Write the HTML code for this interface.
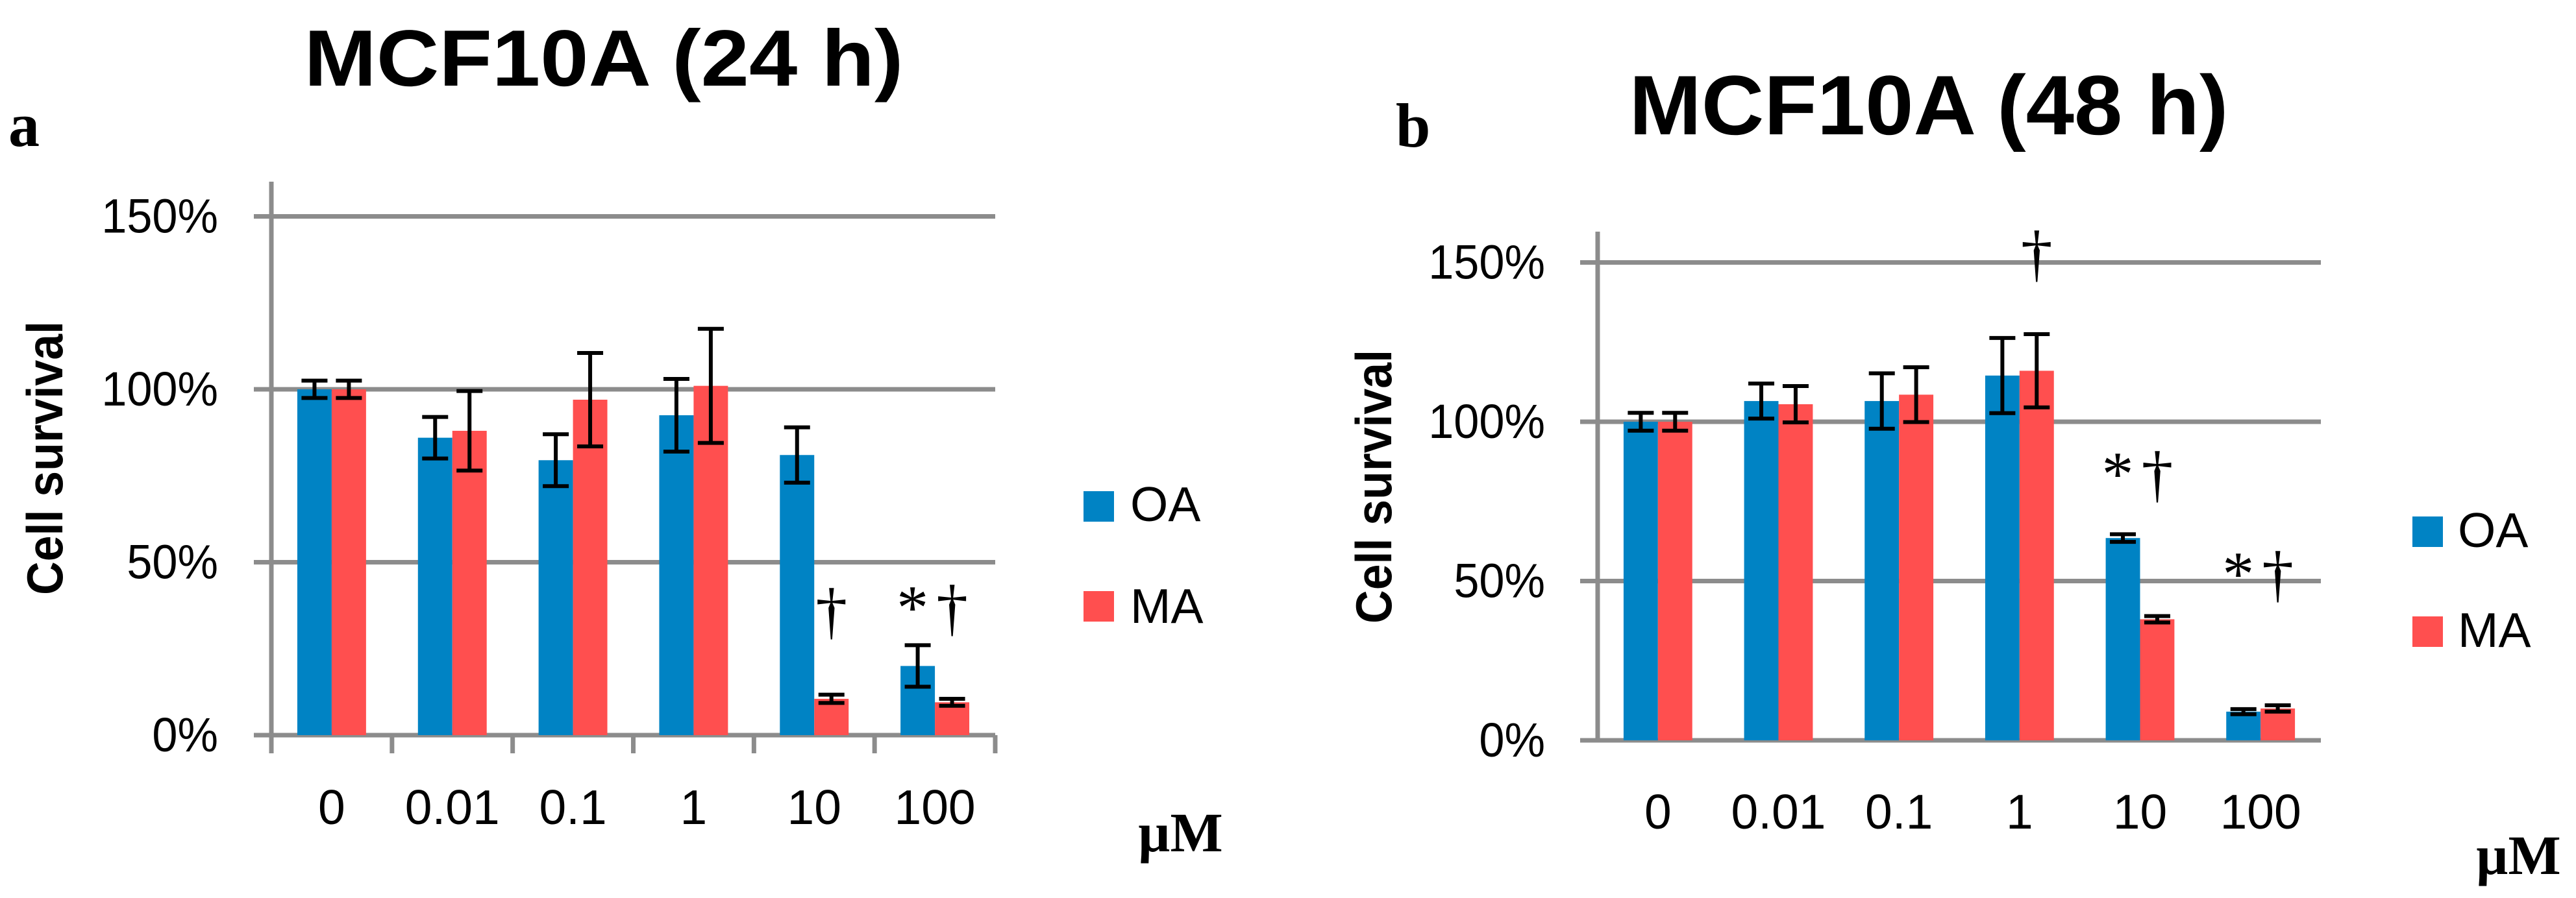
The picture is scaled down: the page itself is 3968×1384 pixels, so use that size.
<!DOCTYPE html>
<html><head><meta charset="utf-8"><style>
html,body{margin:0;padding:0;background:#fff;}
svg{display:block;}
</style></head><body>
<svg id="fig" width="3968" height="1384" viewBox="0 0 3968 1384" xmlns="http://www.w3.org/2000/svg">
<rect width="3968" height="1384" fill="#fff"/>
</svg>
<script>
const categories = ["0","0.01","0.1","1","10","100"];
const yTicks = [0,50,100,150];
const yTickLabels = ["0%","50%","100%","150%"];
const seriesNames = ["OA","MA"];
const oa24 = [100,86,79.5,92.5,81,20];
const ma24 = [100,88,97,101,10.5,9.5];
const oa24Err = [2.5,6,7.5,10.5,8,6];
const ma24Err = [2.5,11.5,13.5,16.5,1.2,1];
const oa48 = [100,106.5,106.5,114.5,63.5,9];
const ma48 = [100,105.5,108.5,116,38,10];
const oa48Err = [2.8,5.5,8.7,11.8,1.2,0.8];
const ma48Err = [2.8,5.7,8.6,11.5,1,1];
const annot24 = [["",""],["",""],["",""],["",""],["","†"],["*","†"]];
const annot48 = [["",""],["",""],["",""],["","†"],["*","†"],["*","†"]];

const NS="http://www.w3.org/2000/svg";
const svg=document.getElementById('fig');
const BLUE="#0083C4", RED="#FF4F4F", GRID="#8c8c8c";
function mk(tag,attrs,parent){const e=document.createElementNS(NS,tag);for(const k in attrs)e.setAttribute(k,attrs[k]);(parent||svg).appendChild(e);return e;}

const panels=[
 {id:'a',x0:418,x1:1533,y0:1133,y100:600,top:280,ticks:true,oa:oa24,ma:ma24,oaE:oa24Err,maE:ma24Err,ann:annot24,annTop:[0,0,0,0,908,903],
  title:"MCF10A (24 h)",tx:930,tb:132,tfs:123,letter:"a",lx:13,lb:225,ylab:[96,706],labR:336,xb:1270,leg:[1669,757,911,1741,803,960],mu:[1753,1312]},
 {id:'b',x0:2461,x1:3575,y0:1141,y100:650,top:357,ticks:false,oa:oa48,ma:ma48,oaE:oa48Err,maE:ma48Err,ann:annot48,annTop:[0,0,0,357,697,851],
  title:"MCF10A (48 h)",tx:2971,tb:207,tfs:130,letter:"b",lx:2150,lb:226,ylab:[2143,750],labR:2380,xb:1277,leg:[3716,796,950,3786,843,997],mu:[3814,1347]}
];

panels.forEach(p=>{
  const g=mk('g',{});
  
  
  const yS=v=>p.y0-(p.y0-p.y100)*v/100;
  const cw=(p.x1-p.x0)/categories.length;
  const bw=cw*0.285, off=cw*0.215;
  const t=mk('text',{x:p.tx,y:p.tb,'text-anchor':'middle','font-family':'Liberation Sans, sans-serif','font-weight':'bold','font-size':p.tfs,textLength:923,lengthAdjust:'spacingAndGlyphs'},g);
  t.textContent=p.title;
  
  
  const l=mk('text',{x:p.lx,y:p.lb,'font-family':'Liberation Serif, serif','font-weight':'bold','font-size':96},g);
  l.textContent=p.letter;
  
  
  yTicks.forEach((v,i)=>{
    const y=yS(v);
    const gl=mk('line',{x1:p.x0-27,x2:p.x1,y1:y,y2:y,stroke:GRID,'stroke-width':7},g);
    
    
    const tl=mk('text',{x:p.labR,y:y+25,'text-anchor':'end','font-family':'Liberation Sans, sans-serif','font-size':74,transform:`translate(${p.labR},0) scale(0.95,1) translate(${-p.labR},0)`},g);
    tl.textContent=yTickLabels[i];
    
    
  });
  const ax=mk('line',{x1:p.x0,x2:p.x0,y1:p.top,y2:p.y0+(p.ticks?28:0),stroke:GRID,'stroke-width':7},g);
  
  
  if(p.ticks){for(let i=1;i<=categories.length;i++){
    const tk=mk('line',{x1:p.x0+i*cw,x2:p.x0+i*cw,y1:p.y0,y2:p.y0+28,stroke:GRID,'stroke-width':7},g);
    
    
  }}
  const yl=mk('text',{transform:`translate(${p.ylab[0]},${p.ylab[1]}) rotate(-90)`,'text-anchor':'middle','font-family':'Liberation Sans, sans-serif','font-weight':'bold','font-size':78,textLength:422,lengthAdjust:'spacingAndGlyphs'},g);
  yl.textContent="Cell survival";
  
  
  categories.forEach((c,i)=>{
    const cx=p.x0+i*cw;
    [[p.oa,p.oaE,BLUE,'oa'],[p.ma,p.maE,RED,'ma']].forEach((s,j)=>{
      const x=cx+off+j*bw, v=s[0][i], e=s[1][i];
      const b=mk('rect',{x:x,y:yS(v),width:bw,height:yS(0)-yS(v),fill:s[2]},g);
      
      
      const mx=x+bw/2;
      const eb=mk('path',{d:`M${mx-20},${yS(v+e)}H${mx+20}M${mx},${yS(v+e)}V${yS(v-e)}M${mx-20},${yS(v-e)}H${mx+20}`,stroke:'#000','stroke-width':6,fill:'none'},g);
      
      
      const a=p.ann[i][j];
      if(a){
        const at=mk('text',{x:mx+(a==='*'?-8:0),y:p.annTop[i]+66,'text-anchor':'middle','font-family':'Liberation Serif, serif','font-size':98},g);
        at.textContent=a;
        
        
      }
    });
    const xl=mk('text',{x:cx+cw/2,y:p.xb,'text-anchor':'middle','font-family':'Liberation Sans, sans-serif','font-size':75},g);
    xl.textContent=c;
    
    
  });
  const L=p.leg;
  [[BLUE,L[1],L[4]],[RED,L[2],L[5]]].forEach((s,j)=>{
    const r=mk('rect',{x:L[0],y:s[1],width:47,height:47,fill:s[0]},g);
    
    
    const lt=mk('text',{x:L[3],y:s[2],'font-family':'Liberation Sans, sans-serif','font-size':75},g);
    lt.textContent=seriesNames[j];
    
    
  });
  const mu=mk('text',{x:p.mu[0],y:p.mu[1],'font-family':'Liberation Serif, serif','font-weight':'bold','font-size':86},g);
  mu.textContent="µM";
  
  
});
</script>
</body></html>
